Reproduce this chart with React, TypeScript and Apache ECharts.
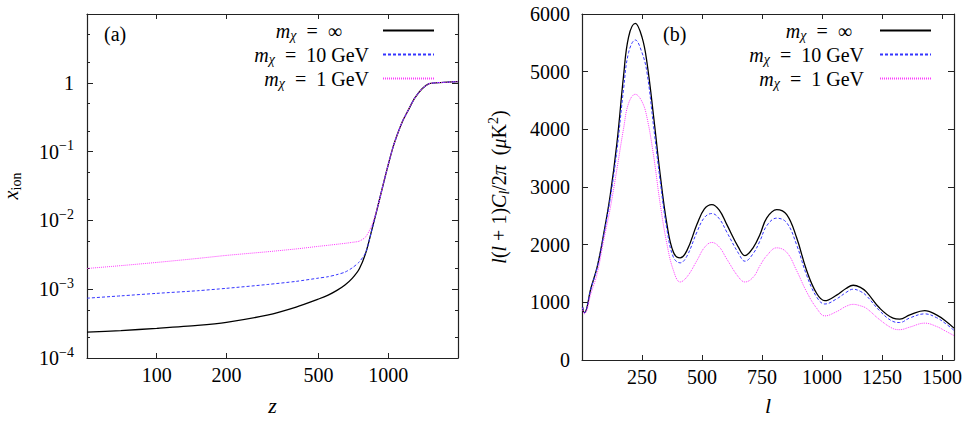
import { useEffect, useRef } from 'react';
import * as echarts from 'echarts';

// ---------- panel (a): ionization fraction vs redshift ----------
const zValues = [50, 70, 100, 150, 200, 300, 400, 500, 550, 600, 650, 700, 750, 800, 850, 900, 950, 1000, 1050, 1100, 1150, 1200, 1250, 1300, 1400, 1500, 1600, 1800, 2000];
const xionInf = [2.38e-4, 2.5e-4, 2.7e-4, 2.98e-4, 3.3e-4, 4.2e-4, 5.5e-4, 7.2e-4, 8.2e-4, 9.6e-4, 1.15e-3, 1.45e-3, 1.98e-3, 3.4e-3, 7.4e-3, 1.58e-2, 3.3e-2, 6.5e-2, 0.118, 0.186, 0.272, 0.36, 0.47, 0.6, 0.82, 0.97, 1.0, 1.02, 1.04];
const xion10 = [7.4e-4, 8.0e-4, 8.7e-4, 9.5e-4, 1.03e-3, 1.17e-3, 1.3e-3, 1.45e-3, 1.52e-3, 1.63e-3, 1.77e-3, 2.05e-3, 2.5e-3, 3.45e-3, 7.4e-3, 1.58e-2, 3.3e-2, 6.5e-2, 0.118, 0.186, 0.272, 0.36, 0.47, 0.6, 0.82, 0.97, 1.0, 1.02, 1.04];
const xion1 = [2.0e-3, 2.2e-3, 2.45e-3, 2.8e-3, 3.1e-3, 3.5e-3, 3.85e-3, 4.2e-3, 4.35e-3, 4.5e-3, 4.64e-3, 4.8e-3, 5.0e-3, 5.8e-3, 8.6e-3, 1.58e-2, 3.3e-2, 6.5e-2, 0.118, 0.186, 0.272, 0.36, 0.47, 0.6, 0.82, 0.97, 1.0, 1.02, 1.04];
const zTicks = [100, 200, 500, 1000];
const xionTicks = [1e-4, 1e-3, 1e-2, 1e-1, 1];
const xionMinorTicks = [2e-4, 5e-4, 2e-3, 5e-3, 2e-2, 5e-2, 0.2, 0.5, 2, 5];

// ---------- panel (b): CMB TT power spectrum ----------
const ells = [2, 10, 20, 35, 63, 90, 118, 146, 173, 194, 222, 250, 271, 298, 326, 354, 381, 409, 437, 479, 510, 541, 572, 603, 652, 679, 714, 742, 770, 811, 853, 894, 936, 978, 1012, 1061, 1100, 1130, 1160, 1185, 1241, 1296, 1324, 1366, 1428, 1477, 1520, 1550];
const clInf = [920, 820, 900, 1210, 1610, 2180, 2870, 3780, 4920, 5600, 5836, 5600, 5150, 4236, 3208, 2352, 1867, 1770, 1896, 2352, 2620, 2695, 2600, 2352, 1953, 1810, 1953, 2181, 2466, 2609, 2523, 2124, 1553, 1153, 1028, 1125, 1240, 1296, 1260, 1182, 896, 725, 708, 782, 856, 782, 660, 553];
const cl10 = [920, 820, 895, 1200, 1595, 2150, 2810, 3650, 4693, 5330, 5550, 5330, 4979, 4060, 3095, 2260, 1780, 1684, 1800, 2220, 2470, 2540, 2450, 2220, 1850, 1713, 1850, 2070, 2330, 2460, 2380, 2000, 1470, 1090, 971, 1060, 1170, 1228, 1190, 1115, 850, 668, 650, 730, 800, 735, 615, 514];
const cl1 = [900, 800, 860, 1120, 1495, 2067, 2638, 3323, 4008, 4450, 4608, 4480, 4200, 3550, 2700, 2009, 1553, 1353, 1439, 1725, 1950, 2038, 1960, 1753, 1439, 1353, 1439, 1639, 1810, 1945, 1867, 1553, 1182, 896, 765, 839, 930, 965, 940, 896, 697, 545, 526, 571, 639, 582, 490, 423];
const ellTicks = [250, 500, 750, 1000, 1250, 1500];
const clTicks = [0, 1000, 2000, 3000, 4000, 5000, 6000];

const seriesNames = ['m_χ = ∞', 'm_χ = 10 GeV', 'm_χ = 1 GeV'];

const FONT = 'Liberation Serif';
const AXIS_COLOR = '#222';

const rich: any = {
  n: { fontFamily: FONT, fontSize: 20, color: '#000' },
  i: { fontFamily: FONT, fontSize: 20, fontStyle: 'italic', color: '#000' },
  sup: { fontFamily: FONT, fontSize: 14, color: '#000', padding: [0, 0, 12, 0] },
  sub: { fontFamily: FONT, fontSize: 14, color: '#000', padding: [10, 0, 0, 0] },
  subi: { fontFamily: FONT, fontSize: 14, fontStyle: 'italic', color: '#000', padding: [10, 0, 0, 0] },
};

// spacer widths between legend text and its line sample, per panel
const legendRich: any = {
  i: { fontFamily: FONT, fontSize: 20, fontStyle: 'italic', color: '#000', lineHeight: 19 },
  n: { fontFamily: FONT, fontSize: 20, color: '#000', lineHeight: 19 },
  c: { fontFamily: FONT, fontSize: 14, fontStyle: 'italic', color: '#000', padding: [10, 0, 0, 0], lineHeight: 19 },
  spA1: { fontFamily: FONT, fontSize: 20, width: 36, lineHeight: 19 },
  spA2: { fontFamily: FONT, fontSize: 20, width: 9, lineHeight: 19 },
  spB1: { fontFamily: FONT, fontSize: 20, width: 23, lineHeight: 19 },
  spB2: { fontFamily: FONT, fontSize: 20, width: 11, lineHeight: 19 },
};

const makeLegendText = (panel: 'A' | 'B') => (name: string) => {
  const rest = name.replace('m_χ', '').replace(' = ', '\u2002=\u2002');
  const sp = `sp${panel}${name.indexOf('∞') >= 0 ? 1 : 2}`;
  return `{i|m}{c|χ}{n|${rest}}{${sp}| }`;
};

const lineStyles = [
  { color: '#000000', width: 1.3, type: 'solid' },
  { color: '#3535ff', width: 1, type: [3, 2] },
  { color: '#ff3cff', width: 1, type: [1, 1] },
];

const logLabel = (v: number) => {
  if (Math.abs(v - 1) < 1e-9) return '{n|1}';
  const e = Math.round(Math.log10(v));
  return `{n|10}{sup|−${-e}}`;
};

export default function App() {
  const ref = useRef<HTMLDivElement>(null);
  useEffect(() => {
    const chart = echarts.init(ref.current!, null, { renderer: 'svg' });

    const baseAxisLine = { show: true, onZero: false, lineStyle: { color: AXIS_COLOR, width: 1.2 } };
    const tickStyle = (len: number, values?: number[]) => ({
      show: true,
      inside: true,
      length: len,
      lineStyle: { color: AXIS_COLOR, width: 1 },
      ...(values ? { customValues: values } : {}),
    });
    const plainLabel = (v: number) => String(Math.round(v));

    const leftSeries = [xionInf, xion10, xion1].map((arr, k) => ({
      name: seriesNames[k],
      type: 'line',
      xAxisIndex: 0,
      yAxisIndex: 0,
      symbol: 'none',
      smooth: 0.25,
      lineStyle: lineStyles[k],
      itemStyle: { color: lineStyles[k].color },
      data: zValues.map((z, i) => [z, arr[i]]),
      z: 2 + k,
    }));
    const rightSeries = [clInf, cl10, cl1].map((arr, k) => ({
      name: seriesNames[k],
      type: 'line',
      xAxisIndex: 2,
      yAxisIndex: 4,
      symbol: 'none',
      smooth: 0.4,
      lineStyle: lineStyles[k],
      itemStyle: { color: lineStyles[k].color },
      data: ells.map((l, i) => [l, arr[i]]),
      z: 2 + k,
    }));

    const logY = (extra: any) => ({
      type: 'log',
      logBase: 10,
      gridIndex: 0,
      min: 1e-4,
      max: 10,
      splitLine: { show: false },
      ...extra,
    });

    const legendBase = {
      data: seriesNames,
      orient: 'vertical',
      align: 'right',
      top: 18.5,
      padding: 0,
      itemGap: 0,
      itemWidth: 51,
      itemHeight: 19,
      selectedMode: false,
      itemStyle: { opacity: 0, borderWidth: 0 },
      textStyle: { fontFamily: FONT, fontSize: 20, color: '#000', rich: legendRich },
    };

    const option: any = {
      animation: false,
      backgroundColor: '#fff',
      textStyle: { fontFamily: FONT },
      grid: [
        { left: 86, top: 14, width: 372, height: 350, containLabel: false },
        { left: 582, top: 14, width: 372, height: 350, containLabel: false },
      ],
      legend: [
        { ...legendBase, right: 535, formatter: makeLegendText('A') },
        { ...legendBase, right: 38, formatter: makeLegendText('B') },
      ],
      xAxis: [
        {
          type: 'log',
          logBase: 10,
          gridIndex: 0,
          min: 50,
          max: 2000,
          position: 'bottom',
          axisLine: baseAxisLine,
          axisTick: tickStyle(5, zTicks),
          axisLabel: { customValues: zTicks, margin: 7, fontFamily: FONT, fontSize: 20, color: '#000', formatter: plainLabel },
          splitLine: { show: false },
          name: 'z',
          nameLocation: 'middle',
          nameGap: 36,
          nameTextStyle: { fontFamily: FONT, fontSize: 22, fontStyle: 'italic', color: '#000' },
        },
        {
          type: 'log',
          logBase: 10,
          gridIndex: 0,
          min: 50,
          max: 2000,
          position: 'top',
          axisLine: baseAxisLine,
          axisTick: tickStyle(5, zTicks),
          axisLabel: { show: false },
          splitLine: { show: false },
        },
        {
          type: 'value',
          gridIndex: 1,
          min: 0,
          max: 1550,
          position: 'bottom',
          axisLine: baseAxisLine,
          axisTick: tickStyle(5, ellTicks),
          axisLabel: { customValues: ellTicks, margin: 7, fontFamily: FONT, fontSize: 20, color: '#000', formatter: plainLabel },
          splitLine: { show: false },
          name: 'l',
          nameLocation: 'middle',
          nameGap: 34,
          nameTextStyle: { fontFamily: FONT, fontSize: 22, fontStyle: 'italic', color: '#000' },
        },
        {
          type: 'value',
          gridIndex: 1,
          min: 0,
          max: 1550,
          position: 'top',
          axisLine: baseAxisLine,
          axisTick: tickStyle(5, ellTicks),
          axisLabel: { show: false },
          splitLine: { show: false },
        },
      ],
      yAxis: [
        logY({
          position: 'left',
          axisLine: baseAxisLine,
          axisTick: tickStyle(6, xionTicks),
          axisLabel: { customValues: xionTicks, margin: 13, formatter: logLabel, rich, fontFamily: FONT, fontSize: 20, color: '#000' },
          name: '{i|x}{sub|ion}',
          nameLocation: 'middle',
          nameRotate: 90,
          nameGap: 64,
          nameTextStyle: { rich, fontFamily: FONT, fontSize: 20, color: '#000' },
        }),
        logY({
          position: 'right',
          axisLine: baseAxisLine,
          axisTick: tickStyle(6, xionTicks),
          axisLabel: { show: false },
        }),
        logY({
          position: 'left',
          axisLine: { show: false },
          axisTick: tickStyle(3, xionMinorTicks),
          axisLabel: { show: false },
        }),
        logY({
          position: 'right',
          axisLine: { show: false },
          axisTick: tickStyle(3, xionMinorTicks),
          axisLabel: { show: false },
        }),
        {
          type: 'value',
          gridIndex: 1,
          min: 0,
          max: 6000,
          interval: 1000,
          position: 'left',
          axisLine: baseAxisLine,
          axisTick: tickStyle(6, clTicks),
          axisLabel: { customValues: clTicks, margin: 12, fontFamily: FONT, fontSize: 20, color: '#000', formatter: plainLabel },
          splitLine: { show: false },
          name: '{i|l}{n|(}{i|l}{n| + 1)}{i|C}{subi|l}{n|/2}{i|π}{n|\u2002(}{i|μ}{n|K}{sup|2}{n|)}',
          nameLocation: 'middle',
          nameRotate: 90,
          nameGap: 70,
          nameTextStyle: { rich, fontFamily: FONT, fontSize: 20, color: '#000' },
        },
        {
          type: 'value',
          gridIndex: 1,
          min: 0,
          max: 6000,
          interval: 1000,
          position: 'right',
          axisLine: baseAxisLine,
          axisTick: tickStyle(6, clTicks),
          axisLabel: { show: false },
          splitLine: { show: false },
        },
      ],
      graphic: [
        { type: 'text', left: 104, top: 24, style: { text: '(a)', fontFamily: FONT, fontSize: 20, fill: '#000' } },
        { type: 'text', left: 663, top: 24, style: { text: '(b)', fontFamily: FONT, fontSize: 20, fill: '#000' } },
      ],
      series: [...leftSeries, ...rightSeries],
    };

    chart.setOption(option);
    return () => chart.dispose();
  }, []);

  return (
    <div
      ref={ref}
      style={{ position: 'fixed', left: 0, top: 0, width: 970, height: 421, background: '#fff' }}
    />
  );
}
